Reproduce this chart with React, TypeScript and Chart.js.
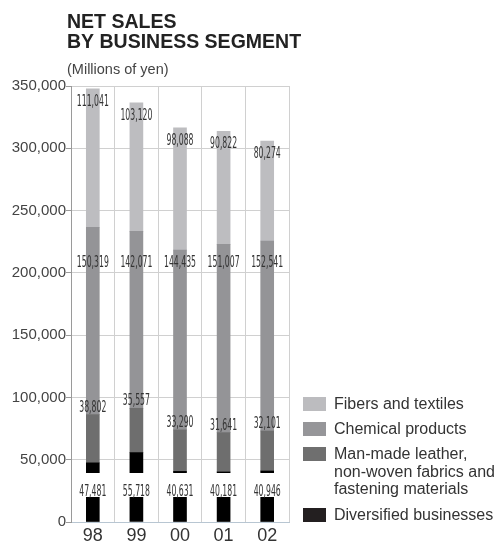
import React, { useEffect, useRef } from "react";
import { Chart, registerables } from "chart.js";

Chart.register(...registerables);

const years = ["98", "99", "00", "01", "02"];
const diversified = [47481, 55718, 40631, 40181, 40946];
const manMade = [38802, 35557, 33290, 31641, 32101];
const chemical = [150319, 142071, 144435, 151007, 152541];
const fibers = [111041, 103120, 98088, 90822, 80274];
const yMax = 350000;
const yStep = 50000;

const titleLines = ["NET SALES", "BY BUSINESS SEGMENT"];
const unitLabel = "(Millions of yen)";

const legendItems: { lines: string[]; color: string }[] = [
  { lines: ["Fibers and textiles"], color: "#bcbcbf" },
  { lines: ["Chemical products"], color: "#969699" },
  { lines: ["Man-made leather,", "non-woven fabrics and", "fastening materials"], color: "#6f6f6f" },
  { lines: ["Diversified businesses"], color: "#231f20" },
];

const SANS = '"Liberation Sans", Arial, sans-serif';
const NARROW = '"Liberation Sans Narrow", "DejaVu Sans Condensed", sans-serif';

const fmt = (v: number) => v.toLocaleString("en-US");

const titlePlugin = {
  id: "titleText",
  afterDraw(chart: any) {
    const ctx = chart.ctx;
    ctx.save();
    ctx.fillStyle = "#222";
    ctx.font = `bold 19.5px ${SANS}`;
    ctx.textAlign = "left";
    ctx.textBaseline = "alphabetic";
    ctx.fillText(titleLines[0], 67, 28);
    ctx.fillText(titleLines[1], 67, 48);
    ctx.fillStyle = "#444";
    ctx.font = `14.5px ${SANS}`;
    ctx.fillText(unitLabel, 67, 74);
    ctx.restore();
  },
};

const legendPlugin = {
  id: "sideLegend",
  afterDraw(chart: any) {
    const ctx = chart.ctx;
    const area = chart.chartArea;
    const x0 = area.right + 14;
    const lineH = 17.5;
    const centers = [404, 429, 454, 515];
    ctx.save();
    ctx.font = `16px ${SANS}`;
    ctx.textAlign = "left";
    ctx.textBaseline = "middle";
    legendItems.forEach((it, i) => {
      const cy = centers[i];
      ctx.fillStyle = it.color;
      ctx.fillRect(x0, cy - 7, 23, 14);
      ctx.fillStyle = "#333";
      it.lines.forEach((ln, j) => {
        ctx.fillText(ln, x0 + 31, cy + j * lineH + 1);
      });
    });
    ctx.restore();
  },
};

const segLabelPlugin = {
  id: "segLabels",
  afterDatasetsDraw(chart: any) {
    const ctx = chart.ctx;
    const yScale = chart.scales.y;
    const bottom = chart.chartArea.bottom;
    ctx.save();
    ctx.font = `15.5px ${NARROW}`;
    const sx = 32 / ctx.measureText("000,000").width;
    chart.data.datasets.forEach((ds: any, di: number) => {
      const meta = chart.getDatasetMeta(di);
      meta.data.forEach((bar: any, i: number) => {
        const v = ds.data[i];
        const top = bar.y;
        let cy: number;
        let boxed = false;
        if (ds.key === "fibers") cy = top + 12;
        else if (ds.key === "chemical") cy = yScale.getPixelForValue(209000);
        else if (ds.key === "manMade") cy = top - 8;
        else {
          cy = bottom - 31;
          boxed = true;
        }
        const text = fmt(v);
        const sw = ctx.measureText(text).width * sx;
        const cx = bar.x;
        if (boxed) {
          ctx.fillStyle = "#ffffff";
          ctx.fillRect(cx - sw / 2 - 1, cy - 18, sw + 2, 24);
        }
        ctx.save();
        ctx.translate(cx, cy);
        ctx.scale(sx, 1);
        ctx.fillStyle = "#333";
        ctx.textAlign = "center";
        ctx.textBaseline = "middle";
        ctx.fillText(text, 0, 1);
        ctx.restore();
      });
    });
    ctx.restore();
  },
};

export default function App() {
  const ref = useRef<HTMLCanvasElement | null>(null);

  useEffect(() => {
    if (!ref.current) return;
    const chart = new Chart(ref.current, {
      type: "bar",
      data: {
        labels: years,
        datasets: [
          { key: "diversified", label: "Diversified businesses", data: diversified, backgroundColor: "#000000" },
          { key: "manMade", label: "Man-made leather, non-woven fabrics and fastening materials", data: manMade, backgroundColor: "#6e6e6e" },
          { key: "chemical", label: "Chemical products", data: chemical, backgroundColor: "#949497" },
          { key: "fibers", label: "Fibers and textiles", data: fibers, backgroundColor: "#bdbdc0" },
        ] as any,
      },
      options: {
        responsive: false,
        animation: false,
        devicePixelRatio: 1,
        datasets: { bar: { barThickness: 13 } },
        layout: { padding: { top: 86, right: 210, left: 0, bottom: 0 } },
        plugins: { legend: { display: false }, tooltip: { enabled: false }, title: { display: false } },
        scales: {
          x: {
            stacked: true,
            grid: { offset: true, color: "#d0d0d0", drawTicks: false, lineWidth: 1 },
            border: { color: "#b8c6d2", width: 1 },
            ticks: { color: "#333", font: { size: 18, family: SANS }, padding: 3 },
            afterFit: (s: any) => { s.height = 22; },
          },
          y: {
            stacked: true,
            min: 0,
            max: yMax,
            ticks: { stepSize: yStep, color: "#444", font: { size: 15, family: SANS }, padding: 0, callback: (v: any) => fmt(Number(v)) },
            grid: { color: "#d0d0d0", tickLength: 5, tickColor: "#9a9a9a", lineWidth: 1 },
            border: { color: "#9a9a9a", width: 1 },
            afterFit: (s: any) => { s.width = 71; },
          },
        },
      } as any,
      plugins: [segLabelPlugin, titlePlugin, legendPlugin],
    });
    return () => chart.destroy();
  }, []);

  return (
    <div style={{ position: "absolute", left: 0, top: 0, width: 499, height: 544 }}>
      <canvas ref={ref} width={499} height={544} style={{ display: "block" }} />
    </div>
  );
}
